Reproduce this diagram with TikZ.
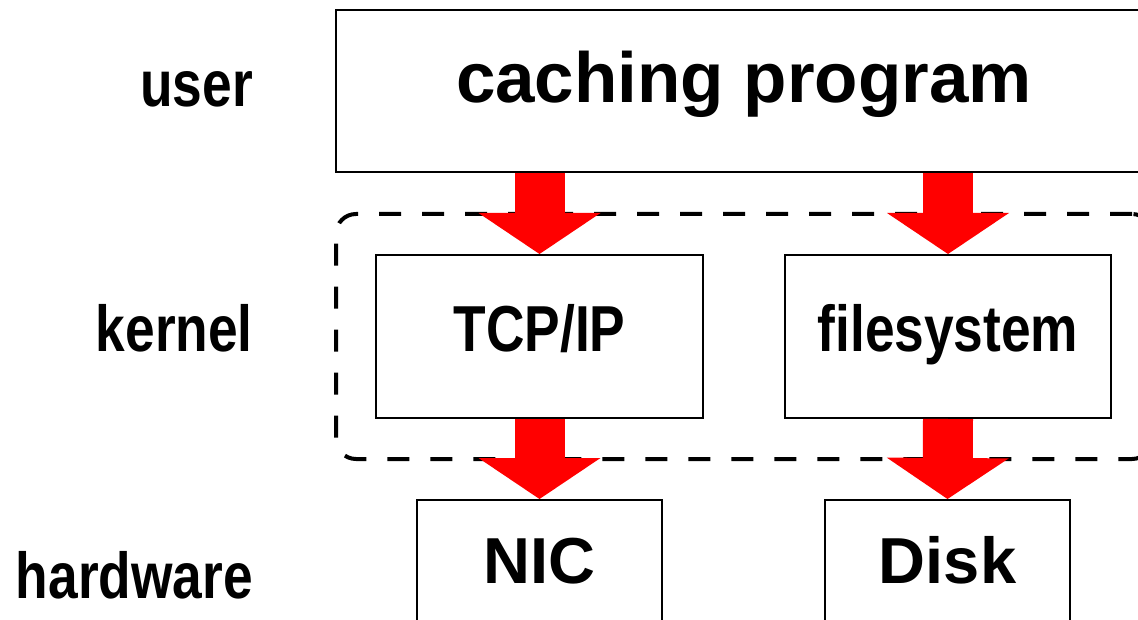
\documentclass[tikz,border=0pt]{standalone}
\usepackage{fontspec}
\setmainfont{Liberation Sans}
\newfontfamily\narrowfont{Liberation Sans}[FakeStretch=0.82]
\usepackage{tikz}
\usetikzlibrary{arrows.meta}

\begin{document}
\begin{tikzpicture}[x=1pt,y=-1pt,
    box/.style={draw,line width=2pt,inner sep=0pt,text height=47pt,text depth=16pt,
      font=\fontsize{65}{70}\selectfont\bfseries},
    lbl/.style={inner sep=0pt,anchor=base east,font=\fontsize{65}{70}\selectfont\narrowfont\bfseries},
    layer/.style={draw,dashed,line width=4pt,dash pattern=on 22pt off 21pt,rounded corners=20pt,
      inner sep=0pt,minimum width=816pt,minimum height=245pt},
    down/.style={red,line width=50pt,-{Triangle[length=41pt,width=122pt,line width=0pt]}}]
  \clip (0,0) rectangle (1138,620);
  % layer names
  \node[lbl] (user) at (253,107) {user};
  \node[lbl] (kernel) at (253,352) {kernel};
  \node[lbl] (hardware) at (253,598) {hardware};
  % boxes
  \node[box,minimum width=816pt,minimum height=162pt,text depth=23pt,
    font=\fontsize{71}{76}\selectfont\bfseries] (prog) at (744,91) {caching program};
  \node[layer] (kbox) at (744,336.5) {};
  \node[box,minimum width=327pt,minimum height=163pt,font=\fontsize{65}{70}\selectfont\narrowfont\bfseries] (tcp) at (539.5,336.5) {TCP/IP};
  \node[box,minimum width=326pt,minimum height=163pt,font=\fontsize{65}{70}\selectfont\narrowfont\bfseries] (fs) at (948,336.5) {filesystem};
  \node[box,minimum width=245pt,minimum height=140pt,text depth=21pt] (nic) at (539.5,570) {NIC};
  \node[box,minimum width=245pt,minimum height=140pt,text depth=21pt] (disk) at (947.5,570) {Disk};
  % arrows
  \draw[down] (tcp.north |- prog.south) -- (tcp.north);
  \draw[down] (fs.north |- prog.south) -- (fs.north);
  \draw[down] (tcp.south) -- (nic.north);
  \draw[down] (fs.south) -- (disk.north);
\end{tikzpicture}
\end{document}
